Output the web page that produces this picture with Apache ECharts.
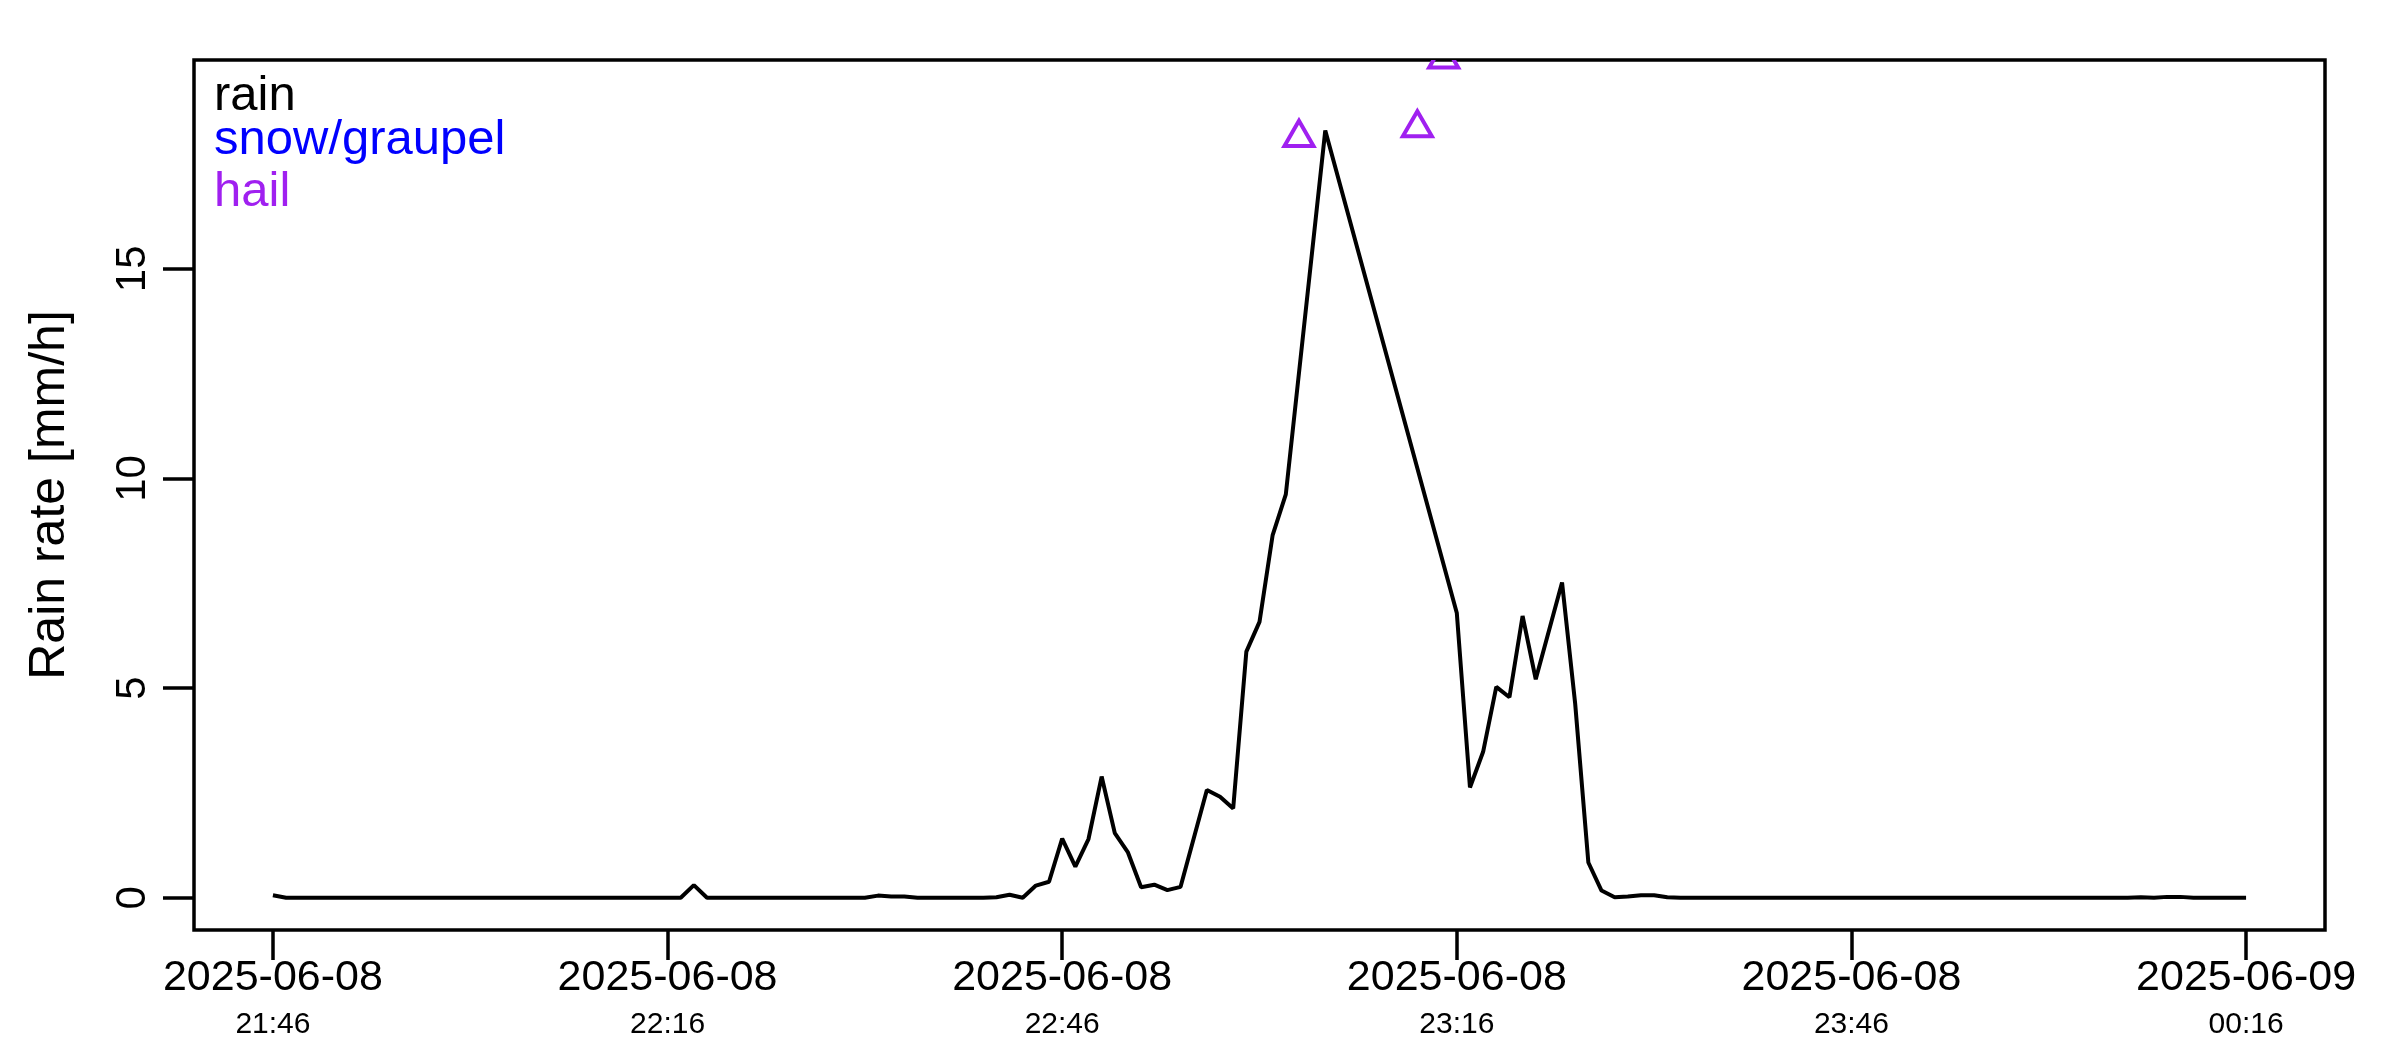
<!DOCTYPE html>
<html>
<head>
<meta charset="utf-8">
<script src="https://cdn.jsdelivr.net/npm/echarts@6/dist/echarts.min.js"></script>
<style>
html,body{margin:0;padding:0;background:#ffffff;}
#c{width:2400px;height:1050px;}
</style>
</head>
<body>
<div id="c"></div>
<script>
// ---- data ----
const startTime = '2025-06-08T21:46:00Z';   // first sample, one sample per minute
const rainValues = [
  0.06, 0, 0, 0, 0, 0, 0, 0, 0, 0,            // 21:46 - 21:55
  0, 0, 0, 0, 0, 0, 0, 0, 0, 0,               // 21:56 - 22:05
  0, 0, 0, 0, 0, 0, 0, 0, 0, 0,               // 22:06 - 22:15
  0, 0, 0.30, 0, 0, 0, 0, 0, 0, 0,            // 22:16 - 22:25
  0, 0, 0, 0, 0, 0, 0.05, 0.03, 0.03, 0,      // 22:26 - 22:35
  0, 0, 0, 0, 0, 0.01, 0.07, 0, 0.29, 0.38,   // 22:36 - 22:45
  1.41, 0.74, 1.40, 2.89, 1.54, 1.08, 0.25, 0.31, 0.18, 0.26, // 22:46 - 22:55
  null, 2.57, 2.41, 2.13, 5.87, 6.58, 8.65, 9.62, null, null, // 22:56 - 23:05
  18.30, null, null, null, null, null, null, null, null, null, // 23:06 - 23:15
  6.79, 2.63, 3.48, 5.03, 4.78, 6.72, 5.21, null, 7.52, 4.62,  // 23:16 - 23:25
  0.84, 0.17, 0.01, 0.03, 0.06, 0.06, 0.01, 0, 0, 0,          // 23:26 - 23:35
  0, 0, 0, 0, 0, 0, 0, 0, 0, 0,               // 23:36 - 23:45
  0, 0, 0, 0, 0, 0, 0, 0, 0, 0,               // 23:46 - 23:55
  0, 0, 0, 0, 0, 0, 0, 0, 0, 0,               // 23:56 - 00:05
  0, 0, 0.01, 0, 0.02, 0.02, 0, 0, 0, 0,      // 00:06 - 00:15
  0                                           // 00:16
];
const hailTimes = ['2025-06-08T23:04:00Z', '2025-06-08T23:13:00Z', '2025-06-08T23:15:00Z'];
const hailValues = [18.13, 18.36, 20.0];
const xTickTimes = ['2025-06-08T21:46:00Z', '2025-06-08T22:16:00Z', '2025-06-08T22:46:00Z',
                    '2025-06-08T23:16:00Z', '2025-06-08T23:46:00Z', '2025-06-09T00:16:00Z'];
const xRange = ['2025-06-08T21:40:00Z', '2025-06-09T00:22:00Z'];
const yTicks = [0, 5, 10, 15];
const yRange = [-0.77, 19.98];
const yName = 'Rain rate [mm/h]';
const legendNames = ['rain', 'snow/graupel', 'hail'];
const legendColors = ['#000000', '#0000FF', '#A020F0'];

// ---- build ----
const FONT = '"Liberation Sans", Arial, Helvetica, sans-serif';
const t0 = Date.parse(startTime);
const rainData = rainValues.map((v, i) => [t0 + i * 60000, v]);
const hailData = hailTimes.map((t, i) => [Date.parse(t), hailValues[i]]);
const xTicks = xTickTimes.map(t => Date.parse(t));
const pad = n => (n < 10 ? '0' : '') + n;

const chart = echarts.init(document.getElementById('c'), null, {renderer: 'canvas'});
const legendBaselines = [113, 157, 209];
const LFS = 49;
const LW = 3.5;

chart.setOption({
  animation: false,
  backgroundColor: '#ffffff',
  grid: {
    left: 194, right: 75, top: 60, bottom: 120,
    show: true, borderColor: '#000000', borderWidth: LW, backgroundColor: 'transparent'
  },
  xAxis: {
    type: 'value',
    min: Date.parse(xRange[0]),
    max: Date.parse(xRange[1]),
    axisLine: {show: false, onZero: false},
    splitLine: {show: false},
    axisTick: {
      show: true, length: 30, customValues: xTicks,
      lineStyle: {color: '#000000', width: LW}
    },
    axisLabel: {
      show: true,
      customValues: xTicks,
      margin: 24,
      color: '#000000',
      fontFamily: FONT,
      formatter: function (val) {
        const d = new Date(val);
        const ds = d.getUTCFullYear() + '-' + pad(d.getUTCMonth() + 1) + '-' + pad(d.getUTCDate());
        const hs = pad(d.getUTCHours()) + ':' + pad(d.getUTCMinutes());
        return '{d|' + ds + '}\n{t|' + hs + '}';
      },
      rich: {
        d: {fontSize: 43, lineHeight: 48, fontFamily: FONT, color: '#000000'},
        t: {fontSize: 30, lineHeight: 46, fontFamily: FONT, color: '#000000'}
      }
    }
  },
  yAxis: {
    type: 'value',
    min: yRange[0],
    max: yRange[1],
    name: yName,
    nameLocation: 'middle',
    nameRotate: 90,
    nameGap: 119,
    nameTextStyle: {fontSize: 50, fontFamily: FONT, color: '#000000'},
    axisLine: {show: false, onZero: false},
    splitLine: {show: false},
    axisTick: {
      show: true, length: 31, customValues: yTicks,
      lineStyle: {color: '#000000', width: LW}
    },
    axisLabel: {
      show: true, customValues: yTicks, rotate: 90, margin: 40,
      fontSize: 42, fontFamily: FONT, color: '#000000'
    }
  },
  series: [
    {
      name: 'rain',
      type: 'line',
      data: rainData,
      showSymbol: false,
      connectNulls: true,
      clip: true,
      lineStyle: {color: '#000000', width: 4},
      itemStyle: {color: '#000000'},
      z: 3
    },
    {
      name: 'hail',
      type: 'custom',
      clip: true,
      data: hailData,
      encode: {x: 0, y: 1},
      z: 4,
      renderItem: function (params, api) {
        const p = api.coord([api.value(0), api.value(1)]);
        const s = 29, h = s * Math.sqrt(3) / 2;
        return {
          type: 'polygon',
          shape: {points: [[p[0], p[1] - 2 * h / 3], [p[0] + s / 2, p[1] + h / 3], [p[0] - s / 2, p[1] + h / 3]]},
          style: {fill: 'none', stroke: legendColors[2], lineWidth: 4, lineJoin: 'miter'}
        };
      }
    }
  ],
  graphic: legendNames.map((n, i) => ({
    type: 'text',
    left: 214,
    top: legendBaselines[i] - LFS * 0.3465 - LFS / 2,
    style: {
      text: n, fill: legendColors[i], fontSize: LFS, fontFamily: FONT,
      lineHeight: LFS
    },
    z: 10
  }))
});
</script>
</body>
</html>
